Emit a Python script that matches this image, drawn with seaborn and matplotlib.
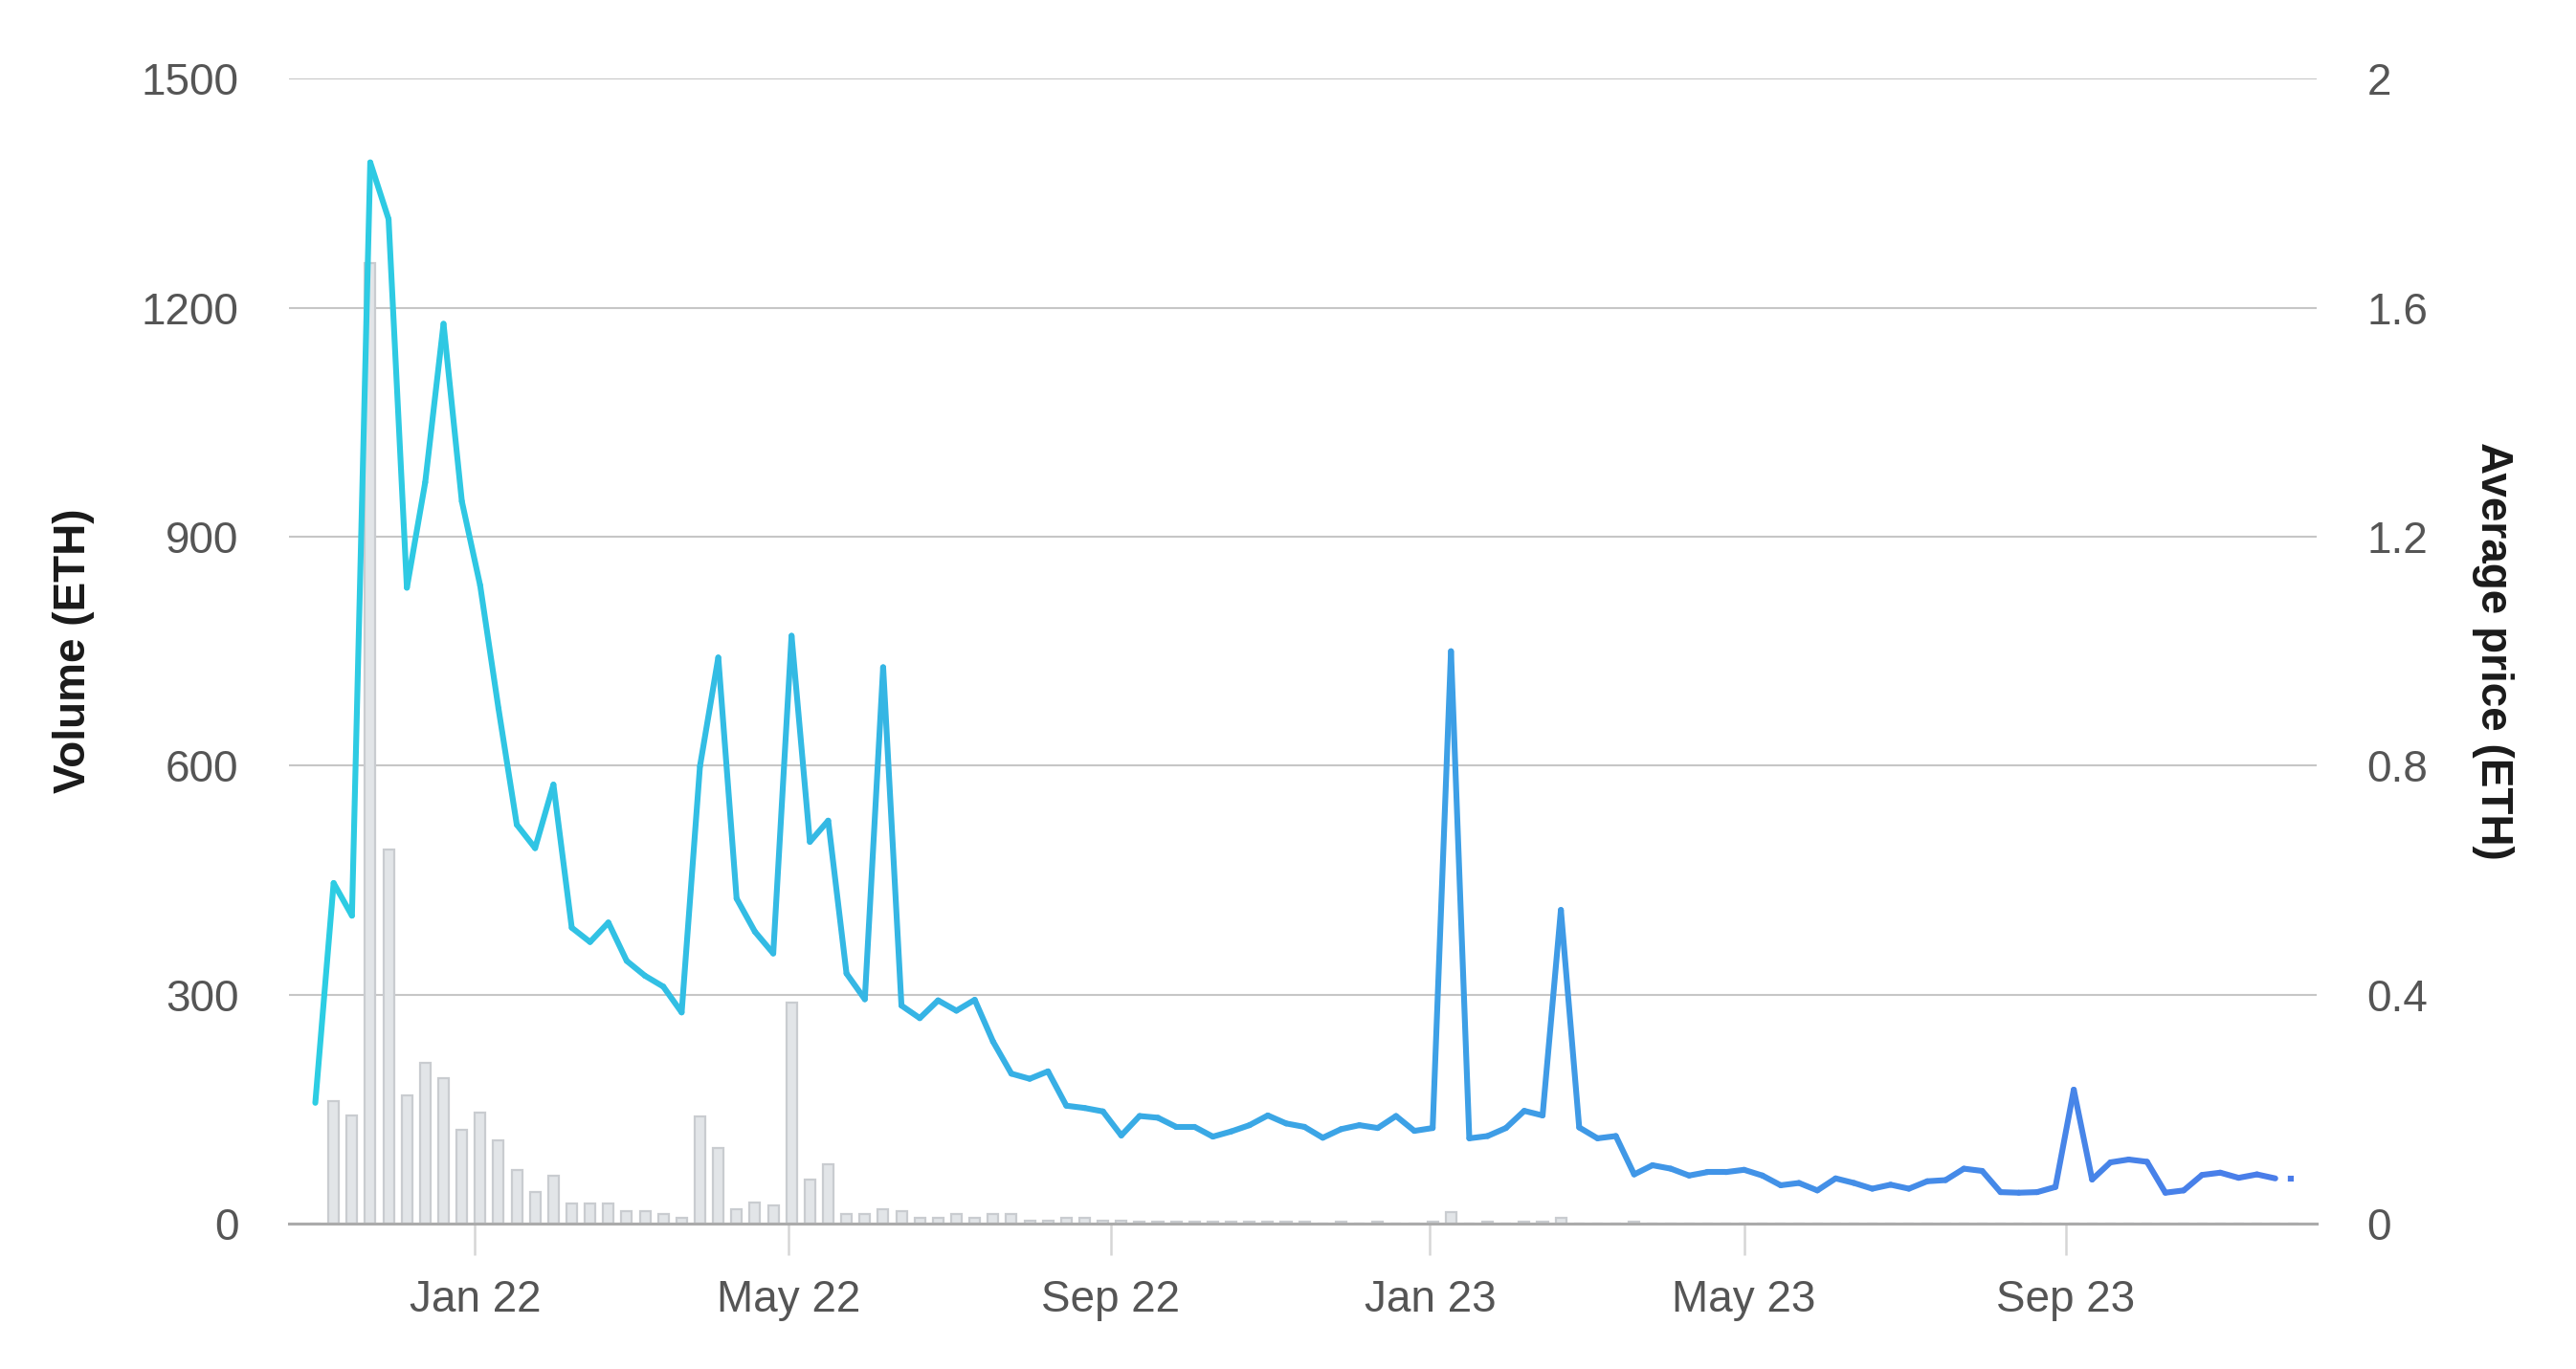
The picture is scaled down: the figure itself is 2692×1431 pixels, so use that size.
import numpy as np
import pandas as pd
import matplotlib
matplotlib.use("Agg")
import matplotlib.pyplot as plt
import matplotlib.dates as mdates
from matplotlib.collections import LineCollection
from matplotlib.colors import LinearSegmentedColormap
from matplotlib.ticker import FuncFormatter
import seaborn as sns

# weekly data, first week starting Nov 1 2021
start_date = "2021-11-01"

volume = [0, 160, 142, 1258, 490, 168, 211, 190, 123, 146,
          109, 70, 42, 63, 26, 26, 26, 16, 16, 12,
          7, 140, 99, 19, 27, 24, 290, 58, 78, 12,
          12, 19, 16, 7, 7, 12, 8, 12, 12, 4,
          4, 8, 8, 4, 4, 3, 3, 3, 3, 3,
          3, 3, 3, 3, 3, 0, 2, 0, 2, 0,
          0, 2, 15, 0, 2, 0, 3, 3, 7, 0,
          0, 0, 2, 0, 0, 0, 0, 0, 0, 0,
          0, 0, 0, 0, 0, 0, 0, 0, 0, 0,
          0, 0, 0, 0, 0, 0, 0, 0, 0, 0,
          0, 0, 0, 0, 0, 0, 0, 0, 0]

price = [0.211, 0.595, 0.538, 1.854, 1.755, 1.111, 1.295, 1.572, 1.262, 1.115,
         0.900, 0.697, 0.656, 0.767, 0.517, 0.492, 0.526, 0.459, 0.433, 0.414,
         0.369, 0.799, 0.989, 0.568, 0.510, 0.472, 1.027, 0.667, 0.704, 0.437,
         0.392, 0.972, 0.381, 0.359, 0.390, 0.372, 0.391, 0.318, 0.262, 0.253,
         0.266, 0.206, 0.202, 0.196, 0.154, 0.188, 0.185, 0.169, 0.169, 0.152,
         0.161, 0.172, 0.189, 0.175, 0.169, 0.150, 0.165, 0.172, 0.167, 0.188,
         0.162, 0.167, 1.000, 0.149, 0.153, 0.167, 0.197, 0.189, 0.548, 0.168,
         0.149, 0.153, 0.086, 0.102, 0.096, 0.084, 0.090, 0.090, 0.094, 0.084,
         0.067, 0.071, 0.058, 0.079, 0.071, 0.061, 0.068, 0.061, 0.074, 0.076,
         0.096, 0.092, 0.055, 0.054, 0.055, 0.064, 0.234, 0.077, 0.107, 0.112,
         0.108, 0.054, 0.058, 0.085, 0.089, 0.080, 0.086, 0.079, 0.079]

vol_ticks = [0, 300, 600, 900, 1200, 1500]
price_ticks = [0, 0.4, 0.8, 1.2, 1.6, 2]

weeks = pd.date_range(start_date, periods=len(price), freq="7D")
x = mdates.date2num(weeks)
df = pd.DataFrame({"x": x, "volume": volume, "price": price})

sns.set_theme(style="white")
plt.rcParams["font.family"] = ["Liberation Sans", "DejaVu Sans"]

fig = plt.figure(figsize=(13.46, 7.155), dpi=200)
ax = fig.add_axes([0.1122, 0.1062, 0.7871, 0.8362])

# volume bars
sns.barplot(data=df, x="x", y="volume", native_scale=True, width=0.58,
            color="#e2e5e8", saturation=1, edgecolor="#c9ccd0", linewidth=0.8,
            errorbar=None, ax=ax, zorder=2)

ax.set_ylim(0, 1500)
ax.set_yticks(vol_ticks)
ax.set_xlim(pd.Timestamp("2021-10-21 23:00"), pd.Timestamp("2023-12-05 19:00"))
ax.xaxis.set_major_locator(mdates.MonthLocator(bymonth=[1, 5, 9]))
ax.xaxis.set_major_formatter(mdates.DateFormatter("%b %y"))
ax.set_axisbelow(True)
ax.yaxis.grid(True, color="#c6c6c6", linewidth=0.75)
ax.xaxis.grid(False)
for s in ["top", "left", "right"]:
    ax.spines[s].set_visible(False)
ax.spines["bottom"].set_color("#ababab")
ax.spines["bottom"].set_linewidth(1.1)
ax.tick_params(axis="x", length=12, width=0.9, color="#d6d6d6", pad=9,
               labelsize=16.5, labelcolor="#555555", bottom=True)
ax.tick_params(axis="y", length=0, pad=19, labelsize=16.5, labelcolor="#555555")
ax.set_xlabel("")
ax.set_ylabel("Volume (ETH)", fontsize=16.5, fontweight="bold", color="#1a1a1a",
              va="center", ha="center")
ax.yaxis.set_label_coords(-0.106, 0.5)

# average price line with a left-to-right colour gradient
ax2 = ax.twinx()
cmap = LinearSegmentedColormap.from_list(
    "grad", [(0, "#2dcde3"), (0.6, "#3e9de6"), (1, "#4a7ce9")])
pts = np.column_stack([x, price])
segs = np.stack([pts[:-2], pts[1:-1]], axis=1)
mids = (x[:-2] + x[1:-1]) / 2
cols = cmap((mids - x[0]) / (x[-1] - x[0]))
lc = LineCollection(segs, colors=cols, linewidths=2.2, capstyle="round",
                    joinstyle="round", zorder=3)
ax2.add_collection(lc)
# last (incomplete) week drawn dotted
ax2.plot(x[-2:], price[-2:], color=cmap(1.0), lw=2.2,
         linestyle=(1.2, (1.2, 2.1)), dash_capstyle="butt")

ax2.set_ylim(0, 2)
ax2.set_yticks(price_ticks)
ax2.yaxis.set_major_formatter(FuncFormatter(lambda v, p: f"{v:g}"))
for s in ax2.spines.values():
    s.set_visible(False)
ax2.grid(False)
ax2.tick_params(axis="y", length=0, pad=19, labelsize=16.5, labelcolor="#555555")
ax2.set_ylabel("Average price (ETH)", fontsize=16.5, fontweight="bold",
               color="#1a1a1a", rotation=270, va="center", ha="center")
ax2.yaxis.set_label_coords(1.087, 0.5)

fig.savefig("out.png", dpi=200)
